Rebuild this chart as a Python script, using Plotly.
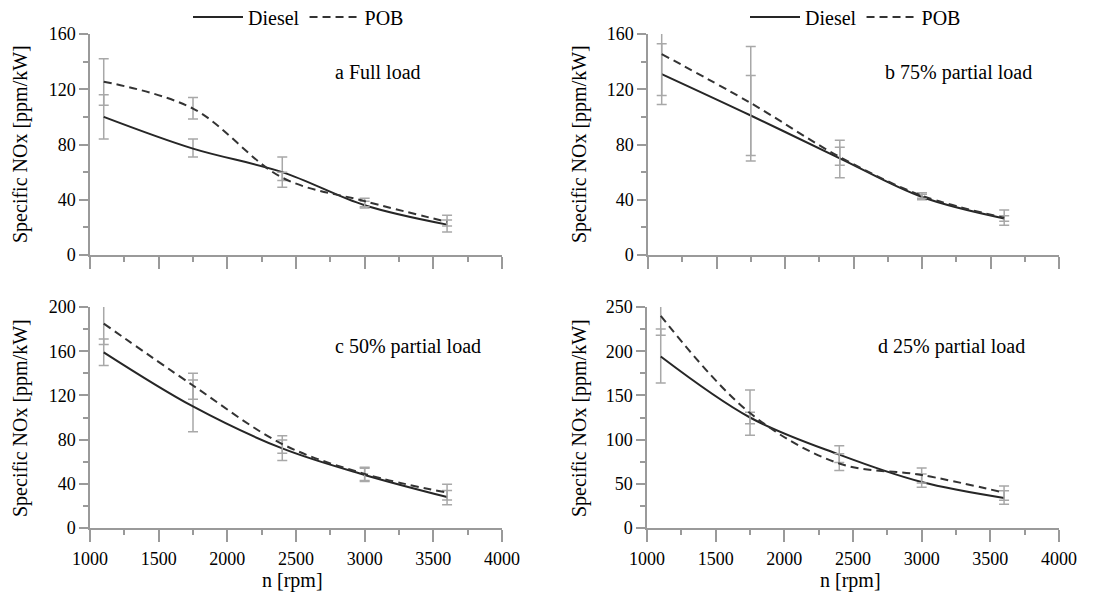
import plotly.graph_objects as go

# ---------------- data ----------------
rpm = [1100, 1750, 2400, 3000, 3600]

# panel a: full load
a_diesel = [100, 77, 60, 36, 22]
a_diesel_up = [16, 7, 11, 3, 3.3]
a_diesel_dn = [16, 6, 11, 2, 5.3]
a_pob = [125.5, 106, 56, 39, 24]
a_pob_up = [16.5, 8, 4, 2, 4.7]
a_pob_dn = [17, 7.5, 2, 4, 3]

# panel b: 75% partial load
b_diesel = [131, 101, 70, 42, 26.5]
b_diesel_up = [22, 29, 8, 2, 2]
b_diesel_dn = [22, 29, 5, 2, 2]
b_pob = [145.5, 110, 71, 43, 27]
b_pob_up = [30, 41, 12, 2, 5.5]
b_pob_dn = [30, 42, 15, 2, 5.5]

# panel c: 50% partial load
c_diesel = [159, 110, 72, 48, 28]
c_diesel_up = [12, 24, 7.6, 6, 6]
c_diesel_dn = [12, 23, 11, 6, 7]
c_pob = [185, 129, 76, 49, 32]
c_pob_up = [19, 11, 7.5, 6, 7.5]
c_pob_dn = [19, 12.5, 8.4, 6, 6.7]

# panel d: 25% partial load
d_diesel = [194, 125, 83, 52, 34]
d_diesel_up = [31, 31, 10, 9, 8]
d_diesel_dn = [30, 20, 9, 6, 7]
d_pob = [240, 130, 73, 60, 40]
d_pob_up = [21, 1, 11, 8, 7.5]
d_pob_dn = [22, 12, 8, 9, 8.5]

panel_labels = ["a Full load", "b 75% partial load", "c 50% partial load", "d 25% partial load"]
y_ranges = [[0, 160], [0, 160], [0, 200], [0, 250]]
y_dticks = [40, 40, 40, 50]
x_range = [1000, 4000]
x_title = "n [rpm]"
y_title = "Specific NOx [ppm/kW]"

# ---------------- figure ----------------
W, H = 1119, 602
FONT = "Liberation Serif"
AXC = "#9a9a9a"
ERRC = "#a8a8a8"

def px_x(p):
    return p / W

def px_y(p):
    return 1 - p / H

# domains (pixel based)
xdoms = [(90, 502), (648, 1059), (90, 502), (647, 1059)]
ydoms = [(34, 255), (34, 255), (307, 528), (307, 528)]

fig = go.Figure()

panels = [
    (a_diesel, a_diesel_up, a_diesel_dn, a_pob, a_pob_up, a_pob_dn),
    (b_diesel, b_diesel_up, b_diesel_dn, b_pob, b_pob_up, b_pob_dn),
    (c_diesel, c_diesel_up, c_diesel_dn, c_pob, c_pob_up, c_pob_dn),
    (d_diesel, d_diesel_up, d_diesel_dn, d_pob, d_pob_up, d_pob_dn),
]

legend_names = ["legend", "legend2", None, None]

for i, (dv, du, dd, pv, pu, pd_) in enumerate(panels):
    xa = "x" if i == 0 else f"x{i+1}"
    ya = "y" if i == 0 else f"y{i+1}"
    show = legend_names[i] is not None
    common = dict(xaxis=xa, yaxis=ya, mode="lines", line_shape="spline",
                  showlegend=show)
    if show:
        common["legend"] = legend_names[i]
    fig.add_trace(go.Scatter(
        x=rpm, y=dv, name="Diesel",
        line=dict(color="#262626", width=2, smoothing=1.0),
        error_y=dict(type="data", symmetric=False, array=du, arrayminus=dd,
                     color=ERRC, thickness=1.5, width=5),
        **common))
    fig.add_trace(go.Scatter(
        x=rpm, y=pv, name="POB",
        line=dict(color="#333333", width=2, dash="8px,5px", smoothing=1.0),
        error_y=dict(type="data", symmetric=False, array=pu, arrayminus=pd_,
                     color=ERRC, thickness=1.5, width=5),
        **common))

fig.update_layout(
    width=W, height=H,
    margin=dict(l=0, r=0, t=0, b=0, autoexpand=False),
    paper_bgcolor="white", plot_bgcolor="white",
    font=dict(family=FONT, size=18, color="black"),
)

for i in range(4):
    xk = "xaxis" if i == 0 else f"xaxis{i+1}"
    yk = "yaxis" if i == 0 else f"yaxis{i+1}"
    ya = "y" if i == 0 else f"y{i+1}"
    xa = "x" if i == 0 else f"x{i+1}"
    x0, x1 = xdoms[i]
    y0, y1 = ydoms[i]
    fig.update_layout({
        xk: dict(
            domain=[px_x(x0), px_x(x1)], anchor=ya, range=x_range, automargin=False,
            showgrid=False, zeroline=False, showline=True, linecolor=AXC, linewidth=1.5,
            ticks="outside", ticklen=12, tickcolor=AXC, tickwidth=1.5, dtick=500,
            tick0=1000, showticklabels=(i >= 2), ticklabelstandoff=2,
            tickfont=dict(family=FONT, size=18, color="black"),
            minor=dict(ticks="outside", ticklen=5, tickcolor=AXC, tickwidth=1.5, dtick=250),
        ),
        yk: dict(
            domain=[px_y(y1), px_y(y0)], anchor=xa, range=y_ranges[i], automargin=False,
            showgrid=False, zeroline=False, showline=True, linecolor=AXC, linewidth=1.5,
            ticks="outside", ticklen=9, tickcolor=AXC, tickwidth=1.5, dtick=y_dticks[i],
            tickfont=dict(family=FONT, size=18, color="black"),
            minor=dict(ticks="outside", ticklen=5, tickcolor=AXC, tickwidth=1.5,
                       dtick=y_dticks[i] / 2),
        ),
    })

legend_style = dict(orientation="h", yanchor="middle", xanchor="left",
                    font=dict(family=FONT, size=20, color="black"),
                    bgcolor="rgba(0,0,0,0)", borderwidth=0, itemwidth=50,
                    tracegroupgap=0)
fig.update_layout(legend=dict(x=px_x(188), y=px_y(17), **legend_style),
                  legend2=dict(x=px_x(745), y=px_y(17), **legend_style))

label_pos = [(333, 72), (883, 72), (333, 347), (876, 347)]
for i in range(4):
    lx, ly = label_pos[i]
    fig.add_annotation(text=panel_labels[i], xref="paper", yref="paper",
                       x=px_x(lx), y=px_y(ly), xanchor="left", yanchor="middle",
                       showarrow=False, font=dict(family=FONT, size=20, color="black"))
# y-axis titles
for cx, cy in [(20, 144), (579, 144), (20, 418), (579, 418)]:
    fig.add_annotation(text=y_title, xref="paper", yref="paper",
                       x=px_x(cx), y=px_y(cy), xanchor="center", yanchor="middle",
                       textangle=-90, showarrow=False,
                       font=dict(family=FONT, size=20, color="black"))
# x-axis titles
for cx in (292, 850):
    fig.add_annotation(text=x_title, xref="paper", yref="paper",
                       x=px_x(cx), y=px_y(580), xanchor="center", yanchor="middle",
                       showarrow=False, font=dict(family=FONT, size=20, color="black"))

fig.write_html("out.html")
